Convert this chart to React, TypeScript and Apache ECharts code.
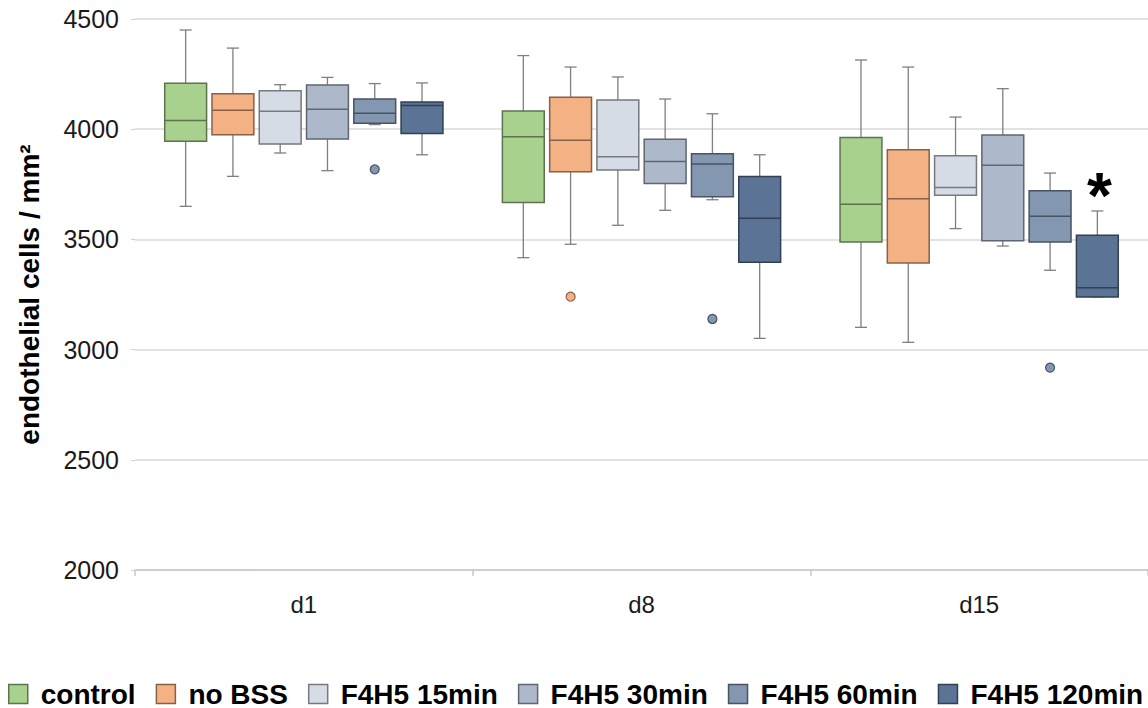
import React, { useEffect, useRef } from "react";
import * as echarts from "echarts";

const categories = ["d1", "d8", "d15"];
const seriesNames = ["control", "no BSS", "F4H5 15min", "F4H5 30min", "F4H5 60min", "F4H5 120min"];
const yTicks = [2000, 2500, 3000, 3500, 4000, 4500];

// [min, Q1, median, Q3, max] for d1, d8, d15
const controlStats = [[3650, 3945, 4040, 4208, 4450], [3417, 3667, 3966, 4083, 4334], [3101, 3488, 3659, 3962, 4314]];
const noBssStats = [[3786, 3975, 4086, 4161, 4368], [3478, 3807, 3950, 4145, 4282], [3033, 3393, 3685, 3907, 4282]];
const f15Stats = [[3892, 3933, 4081, 4175, 4202], [3564, 3815, 3875, 4132, 4237], [3549, 3700, 3736, 3880, 4055]];
const f30Stats = [[3812, 3956, 4090, 4201, 4235], [3632, 3754, 3853, 3954, 4137], [3470, 3494, 3836, 3974, 4184]];
const f60Stats = [[4021, 4027, 4072, 4137, 4207], [3680, 3694, 3842, 3889, 4070], [3360, 3488, 3605, 3721, 3801]];
const f120Stats = [[3884, 3981, 4108, 4123, 4210], [3051, 3396, 3596, 3785, 3884], [3239, 3239, 3281, 3519, 3629]];

// outliers: [category index, value]
const controlOutliers: number[][] = [];
const noBssOutliers = [[1, 3240]];
const f15Outliers: number[][] = [];
const f30Outliers: number[][] = [];
const f60Outliers = [[0, 3818], [1, 3139], [2, 2918]];
const f120Outliers: number[][] = [];

// significance marks per category
const f120Marks = ["", "", "*"];
const emptyMarks = ["", "", ""];

const fills = ["#a9d18e", "#f4b183", "#d6dce5", "#adb9ca", "#8497b0", "#5b7394"];
const borders = ["#5d734e", "#866148", "#76797e", "#5f666f", "#495361", "#324052"];
const whiskerColor = "#7f7f7f";
const fontFamily = "'Liberation Sans', Arial, sans-serif";

const allStats = [controlStats, noBssStats, f15Stats, f30Stats, f60Stats, f120Stats];
const allOutliers = [controlOutliers, noBssOutliers, f15Outliers, f30Outliers, f60Outliers, f120Outliers];
const allMarks = [emptyMarks, emptyMarks, emptyMarks, emptyMarks, emptyMarks, f120Marks];

const STEP = 0.14;
const BOXW = 0.124;

export default function App() {
  const ref = useRef<HTMLDivElement>(null);
  useEffect(() => {
    if (!ref.current) return;
    const chart = echarts.init(ref.current, undefined, { renderer: "svg" });

    const boxSeries = seriesNames.map((name, i) => ({
      type: "custom",
      name,
      itemStyle: { color: fills[i], borderColor: borders[i] },
      encode: { x: 0, y: [1, 2, 3, 4, 5] },
      data: allStats[i].map((s, c) => [c, ...s]),
      renderItem: (params: any, api: any) => {
        const cat = api.value(0);
        const band = api.size([1, 0])[0];
        const cx = api.coord([cat, 0])[0] + (i - 2.5) * band * STEP;
        const bw = band * BOXW;
        const y = (k: number) => api.coord([cat, api.value(k)])[1];
        const yMin = y(1), yQ1 = y(2), yMed = y(3), yQ3 = y(4), yMax = y(5);
        const cap = 6;
        const lineStyle = { stroke: whiskerColor, lineWidth: 1.3 };
        const children: any[] = [
          { type: "line", shape: { x1: cx, y1: yMax, x2: cx, y2: yQ3 }, style: lineStyle },
          { type: "line", shape: { x1: cx, y1: yQ1, x2: cx, y2: yMin }, style: lineStyle },
          { type: "line", shape: { x1: cx - cap, y1: yMax, x2: cx + cap, y2: yMax }, style: lineStyle },
          { type: "line", shape: { x1: cx - cap, y1: yMin, x2: cx + cap, y2: yMin }, style: lineStyle },
          {
            type: "rect",
            shape: { x: cx - bw / 2, y: yQ3, width: bw, height: yQ1 - yQ3 },
            style: { fill: fills[i], stroke: borders[i], lineWidth: 1.5 },
          },
          {
            type: "line",
            shape: { x1: cx - bw / 2, y1: yMed, x2: cx + bw / 2, y2: yMed },
            style: { stroke: borders[i], lineWidth: 1.5 },
          },
        ];
        allOutliers[i]
          .filter((o) => o[0] === cat)
          .forEach((o) => {
            const oy = api.coord([cat, o[1]])[1];
            children.push({
              type: "circle",
              shape: { cx, cy: oy, r: 4.5 },
              style: { fill: fills[i], stroke: borders[i], lineWidth: 1.2 },
            });
          });
        const mark = allMarks[i][params.dataIndex];
        if (mark) {
          children.push({
            type: "text",
            x: cx + 2,
            y: yMax - 15,
            style: {
              text: mark,
              fontSize: 64,
              fontWeight: "bold",
              fontFamily,
              fill: "#000",
              align: "center",
              verticalAlign: "middle",
            },
          });
        }
        return { type: "group", children };
      },
    }));

    chart.setOption({
      animation: false,
      backgroundColor: "#fff",
      grid: { left: 135, right: 0, top: 19, bottom: 138, containLabel: false },
      xAxis: {
        type: "category",
        data: categories,
        boundaryGap: true,
        axisLine: { show: true, lineStyle: { color: "#c8c8c8", width: 1.5 } },
        axisTick: { show: true, length: 6, lineStyle: { color: "#c8c8c8", width: 1.5 } },
        axisLabel: { fontSize: 24, color: "#1a1a1a", fontFamily, margin: 22 },
      },
      yAxis: {
        type: "value",
        min: yTicks[0],
        max: yTicks[yTicks.length - 1],
        interval: 500,
        name: "endothelial cells / mm²",
        nameLocation: "middle",
        nameGap: 92,
        nameTextStyle: { fontSize: 28, fontWeight: "bold", color: "#000", fontFamily },
        axisLine: { show: false },
        axisTick: { show: true, length: 4, lineStyle: { color: "#d0d0d0" } },
        axisLabel: {
          fontSize: 25,
          color: "#1a1a1a",
          fontFamily,
          margin: 16,
          formatter: (v: number) => String(v),
        },
        splitLine: { show: true, lineStyle: { color: "#d9d9d9", width: 1.5 } },
      },
      legend: {
        data: seriesNames.map((n, i) => ({
          name: n,
          icon: "rect",
          itemStyle: { color: fills[i], borderColor: borders[i], borderWidth: 1.5 },
        })),
        left: 8,
        top: 680,
        padding: 0,
        itemWidth: 19,
        itemHeight: 19,
        itemGap: 20,
        selectedMode: false,
        textStyle: { fontSize: 28, fontWeight: "bold", color: "#000", fontFamily, padding: [0, 0, 0, 8] },
      },
      series: boxSeries,
    });
    return () => chart.dispose();
  }, []);
  return <div ref={ref} style={{ position: "absolute", left: 0, top: 0, width: 1148, height: 708 }} />;
}
